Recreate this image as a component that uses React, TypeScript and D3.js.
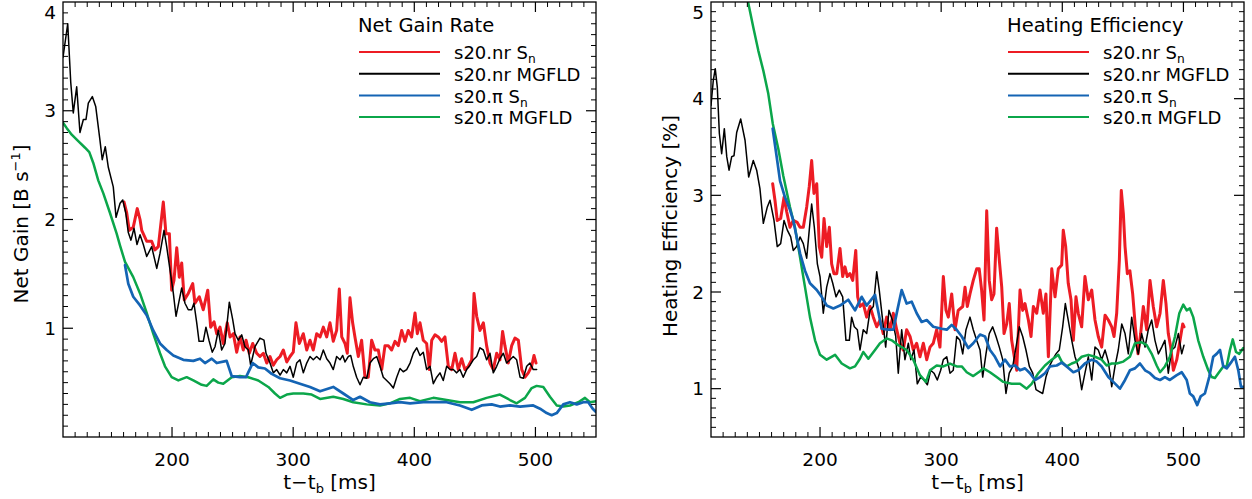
import React from "react";
import * as d3 from "d3";

// ---------------- Left panel: Net Gain Rate [B s^-1] ----------------
const tGainNrSn = [160.4,162.6,164.7,168.0,171.3,173.6,175.0,179.1,183.2,185.9,188.7,191.5,192.8,195.0,197.8,199.7,201.6,203.9,206.0,208.0,210.1,213.4,217.1,218.9,222.5,225.8,229.5,231.9,234.7,236.9,239.6,242.3,245.6,247.9,250.6,253.4,256.1,258.8,261.1,263.8,266.6,269.9,272.6,275.4,278.2,280.9,283.6,286.4,289.2,291.9,294.7,297.4,300.1,302.3,305.1,308.4,311.2,313.9,316.6,319.4,322.2,324.9,327.7,330.4,333.1,335.9,338.1,340.1,342.8,344.7,346.9,349.1,351.0,353.8,356.5,359.3,362.0,364.8,367.5,370.3,373.1,375.8,378.5,381.3,384.1,386.8,389.6,392.3,395.0,397.8,400.6,402.5,404.7,407.4,410.2,412.4,414.4,417.1,419.8,422.6,425.3,428.1,430.9,433.6,436.3,439.1,441.8,444.6,447.4,449.3,451.5,454.2,457.0,459.7,462.5,465.2,468.0,470.7,472.9,474.8,477.6,480.4,483.1,485.9,488.7,491.4,494.1,496.9,498.8,500.5];
const vGainNrSn = [2.16,2.06,1.90,1.93,2.10,2.00,1.90,1.80,1.80,1.72,1.75,2.03,2.16,1.87,1.87,1.35,1.44,1.74,1.47,1.60,1.26,1.32,1.41,1.23,1.29,1.17,1.35,1.01,1.06,0.95,1.01,0.86,1.05,0.92,0.95,0.78,0.92,0.80,0.89,0.77,0.86,0.77,0.74,0.77,0.68,0.74,0.66,0.71,0.74,0.80,0.69,0.74,0.78,1.05,0.86,0.95,0.80,0.89,0.80,0.95,0.92,1.01,0.92,1.05,0.88,0.98,1.36,0.92,0.86,0.77,1.28,1.05,0.92,0.74,0.89,0.55,0.55,0.89,0.80,0.80,0.62,0.84,0.84,0.80,0.88,0.84,0.98,0.88,0.98,0.92,1.14,0.95,1.05,0.89,0.86,0.62,0.89,0.94,0.92,0.88,0.92,0.65,0.62,0.77,0.62,0.72,0.62,0.65,0.71,1.32,1.11,0.98,1.05,0.84,0.68,0.62,0.77,0.71,0.97,0.84,0.68,0.84,0.91,0.89,0.62,0.55,0.59,0.65,0.75,0.68];

const tGainNrMG = [110,113.9,116.4,118.5,121.3,124,126.8,129,130.9,134.2,137,140.5,142.4,144.9,147.4,151.5,153.8,157.1,159.3,161.8,163.9,166.1,168.6,171.1,173.6,176.3,179.1,183.2,187.4,190.1,193.4,195.6,198.3,201.1,203.3,206,208,210.7,213.4,216.2,218.1,220.4,222.3,225.8,228,230.5,233.2,235.5,238.2,241,243.7,247.3,250.1,252,254.7,257.5,260.2,263,264.9,268.5,272.6,275.9,277.6,280.9,283.6,286.4,289.2,291.9,294.7,297.4,300.1,302.9,305.6,308.4,311.2,313.9,316.6,319.4,322.2,324.9,327.7,330.4,333.1,335.9,338.7,340.9,342.8,345.5,347.5,349.6,352.4,355.2,357.9,360.7,363.4,366.2,369,371.7,374.4,377.2,379.9,382.7,385.5,388.2,390.9,393.7,396.5,399.2,402,404.7,407.4,410.2,413,415.7,418.5,421.2,423.9,426.7,429.5,432.2,435,437.7,440.4,443.2,446,448.7,451.5,454.2,457,459.7,462.5,465.2,468,470.7,473.5,476.2,479,481.7,484.5,487.3,490,492.8,495.5,498.2,501];
const vGainNrMG = [3.49,3.80,3.26,2.98,3.22,2.80,2.92,2.92,3.07,3.13,3.04,2.73,2.55,2.67,2.48,2.30,2.02,2.15,2.18,2.06,1.88,1.81,1.92,1.77,1.86,1.77,1.66,1.75,1.55,1.69,1.90,1.75,1.54,1.32,1.11,1.26,1.37,1.23,1.17,1.17,1.23,1.05,0.88,0.88,1.01,0.89,0.78,0.83,0.98,0.80,0.86,1.24,1.08,0.95,0.89,0.94,0.83,0.80,0.66,0.83,0.91,0.89,0.77,0.68,0.59,0.62,0.57,0.62,0.59,0.65,0.55,0.68,0.71,0.59,0.68,0.74,0.71,0.74,0.71,0.80,0.72,0.68,0.62,0.74,0.71,0.75,0.69,0.74,0.75,0.65,0.55,0.48,0.55,0.54,0.68,0.72,0.74,0.65,0.55,0.52,0.49,0.45,0.55,0.63,0.60,0.62,0.68,0.77,0.82,0.75,0.78,0.62,0.65,0.49,0.55,0.59,0.52,0.65,0.62,0.62,0.59,0.62,0.55,0.62,0.66,0.71,0.74,0.82,0.80,0.71,0.77,0.59,0.65,0.72,0.77,0.68,0.71,0.74,0.71,0.55,0.54,0.65,0.68,0.62,0.62];

const tGainPiSn = [161.2,163.9,168.0,173.6,179.1,184.5,190.1,195.6,201.1,209.3,217.6,223.1,227.2,232.8,236.9,245.1,249.3,256.1,261.1,266.6,271.2,276.7,282.3,289.2,297.4,305.6,313.9,322.2,333.1,341.4,349.6,355.2,363.4,371.7,379.9,388.2,396.5,407.4,415.7,426.7,437.7,447.4,455.6,463.9,470.7,479.0,487.3,498.2,503.8,509.3,513.4,517.6,523.0,528.5,534.1,539.5,543.6,547.3,550];
const vGainPiSn = [1.58,1.41,1.29,1.21,1.12,0.98,0.86,0.80,0.75,0.71,0.70,0.72,0.68,0.72,0.68,0.70,0.56,0.55,0.55,0.68,0.64,0.63,0.58,0.54,0.52,0.49,0.46,0.42,0.46,0.40,0.34,0.37,0.32,0.30,0.31,0.32,0.31,0.32,0.32,0.32,0.29,0.25,0.29,0.30,0.28,0.29,0.28,0.29,0.26,0.22,0.20,0.22,0.30,0.32,0.30,0.32,0.32,0.26,0.23];

const tGainPiMG = [110,113.1,117.2,122.6,128.2,131.7,135.0,139.1,143.3,148.8,154.3,157.1,161.2,168.0,173.6,179.1,184.5,190.1,194.2,199.7,205.2,212.1,217.6,224.5,228.6,234.1,238.2,242.3,249.3,256.1,263.0,271.2,279.5,285.0,289.2,294.7,300.1,308.4,315.3,322.2,333.1,341.4,349.6,360.7,371.7,379.9,388.2,396.5,404.7,415.7,426.7,437.7,448.7,459.7,470.7,479.0,484.5,491.4,496.9,501.0,506.5,512.0,517.6,523.0,528.5,535.4,540.9,545.0,550];
const vGainPiMG = [2.89,2.84,2.78,2.72,2.66,2.62,2.52,2.36,2.24,2.06,1.87,1.76,1.61,1.47,1.32,1.14,0.95,0.77,0.65,0.55,0.52,0.55,0.52,0.48,0.47,0.53,0.50,0.49,0.55,0.56,0.55,0.52,0.46,0.40,0.36,0.39,0.40,0.40,0.39,0.35,0.37,0.35,0.32,0.30,0.29,0.31,0.35,0.36,0.33,0.36,0.34,0.32,0.32,0.36,0.39,0.34,0.31,0.36,0.45,0.47,0.46,0.37,0.29,0.28,0.29,0.32,0.36,0.32,0.33];

// ---------------- Right panel: Heating Efficiency [%] ----------------
const tEffNrSn = [160.9,162.8,164.7,167.5,170.3,172.5,175.2,177.9,181.2,183.5,186.2,189.0,191.1,193.1,195.0,197.3,199.4,201.4,203.3,205.5,207.7,209.6,211.5,213.8,216.5,218.7,220.6,222.5,224.7,227.0,229.5,231.1,233.0,235.7,238.5,241.3,244.0,246.8,249.5,252.2,255.0,257.8,260.5,263.3,266.0,268.7,271.5,274.3,277.0,279.8,282.5,285.3,288.1,290.8,293.5,296.3,299.0,301.8,304.0,305.9,308.7,311.4,314.1,317.8,319.7,321.6,323.8,326.5,329.3,331.4,333.4,335.4,337.6,339.7,341.7,343.6,345.8,348.0,350.0,351.9,354.1,356.2,358.2,360.4,362.4,365.1,367.3,369.2,372.0,374.2,376.1,378.9,381.6,384.3,386.5,388.5,391.3,394.0,396.7,399.5,400.8,402.8,404.9,407.2,409.1,411.3,413.2,416.0,418.7,421.5,424.3,427.0,429.7,432.5,435.3,438.0,440.8,442.7,444.9,447.1,448.7,450.4,451.8,453.7,455.8,458.1,460.3,462.5,464.7,466.9,469.7,472.4,475.1,477.9,480.7,483.4,485.6,487.5,489.5,491.7,494.5,497.2,499.4,500.5];
const vEffNrSn = [3.12,2.95,2.74,2.76,2.98,2.83,2.67,2.74,2.72,2.67,2.67,2.88,3.09,3.36,3.02,3.12,2.47,2.36,2.76,2.47,2.67,2.29,2.19,2.19,2.45,2.16,2.26,2.16,2.19,2.12,2.43,1.95,1.85,1.88,1.74,1.85,1.74,1.64,1.71,1.57,1.74,1.61,1.78,1.61,1.47,1.40,1.61,1.54,1.40,1.47,1.33,1.47,1.30,1.43,1.47,1.61,1.43,2.16,1.81,1.74,1.98,1.61,1.81,1.85,2.05,1.85,1.98,2.12,2.24,2.24,2.02,1.71,2.84,2.12,1.92,1.98,2.66,2.33,2.05,1.57,1.67,1.88,1.50,1.33,1.19,2.02,1.81,1.88,1.71,1.54,1.85,1.78,2.02,1.78,1.98,1.33,2.24,1.95,2.24,2.28,2.64,2.47,2.09,1.92,1.50,1.95,1.78,1.64,2.16,1.92,2.02,1.71,1.54,1.43,1.76,1.71,1.64,1.54,1.78,2.33,3.05,2.81,2.47,2.19,2.22,1.98,1.64,1.36,1.57,1.85,1.61,2.12,1.85,1.64,1.78,2.12,1.88,1.57,1.43,1.19,1.30,1.50,1.67,1.64];

const tEffNrMG = [110,111.9,113.5,115.2,116.9,118.8,121.0,123.0,124.9,127.1,129.0,131.2,134.5,138.1,141.1,144.9,147.7,150.4,153.2,156.5,158.7,162.0,164.7,167.5,170.3,173.0,175.8,177.9,180.7,183.5,186.2,189.0,191.1,193.1,195.3,197.8,200.0,202.7,205.5,208.2,210.5,213.2,215.9,218.7,221.4,224.2,226.1,228.3,230.8,233.0,235.7,238.5,241.3,244.0,246.8,248.9,251.4,254.2,256.9,259.7,262.5,264.6,267.4,270.1,272.9,274.9,277.6,280.3,283.1,285.8,288.6,291.4,294.1,296.8,299.6,301.8,304.6,307.3,310.0,312.8,315.5,317.8,320.5,323.8,326.5,329.3,332.1,334.3,337.0,339.7,342.5,345.3,348.0,350.8,353.5,356.2,359.1,361.8,364.5,367.3,370.0,372.8,375.6,378.3,381.0,383.8,386.5,389.3,392.1,394.8,397.5,400.3,402.5,404.9,407.8,410.5,413.2,416.0,418.7,421.5,424.3,427.0,429.7,432.5,435.3,438.0,440.8,443.5,446.2,449.1,451.8,454.5,457.3,460.0,462.7,465.5,468.3,471.0,473.8,476.5,479.3,482.1,484.7,487.5,490.3,493.0,495.8,498.6,500.5];
const vEffNrMG = [3.93,4.19,4.31,4.12,3.64,3.43,3.69,3.40,3.26,3.40,3.41,3.65,3.79,3.57,3.19,3.36,3.26,3.07,2.71,2.88,2.95,2.74,2.47,2.50,2.74,2.64,2.57,2.43,2.47,2.57,2.50,2.35,2.64,2.91,2.67,2.29,2.16,1.78,2.05,2.19,2.09,1.95,2.02,1.95,1.50,1.50,1.74,1.64,1.61,1.40,1.61,1.57,1.81,1.85,2.21,2.02,1.74,1.43,1.81,1.71,1.54,1.16,1.61,1.30,1.47,1.30,1.40,1.05,1.12,1.09,1.04,1.19,1.16,1.09,1.19,1.30,1.33,1.16,1.19,1.54,1.50,1.36,1.61,1.74,1.61,1.50,1.40,1.12,1.36,1.57,1.64,1.54,1.43,1.30,0.95,1.16,1.23,1.43,1.64,1.54,1.40,1.23,1.16,0.99,0.97,0.95,1.12,1.23,1.30,1.36,1.40,1.64,1.88,1.71,1.50,1.33,1.23,0.99,1.16,1.33,1.09,1.43,1.40,1.30,1.40,1.28,1.02,1.23,1.40,1.67,1.57,1.36,1.74,1.50,1.36,1.57,1.43,1.61,1.71,1.50,1.36,1.43,1.50,1.16,1.40,1.43,1.57,1.36,1.45];

const tEffPiSn = [160.9,164.2,167.0,171.1,175.2,177.9,180.7,183.5,187.6,191.7,197.3,201.4,205.5,211.0,216.5,223.3,228.9,234.4,238.5,245.4,250.9,256.4,260.5,263.8,267.4,271.5,275.7,279.8,283.9,288.1,293.5,300.4,304.6,308.7,312.8,317.0,322.4,326.5,332.1,336.2,340.3,344.4,348.6,352.7,356.8,361.0,365.1,369.2,373.3,377.5,381.6,385.7,389.8,395.4,399.5,403.6,409.1,413.2,418.7,424.3,428.4,432.5,438.0,442.1,447.6,451.8,455.8,460.0,464.1,468.3,472.4,476.5,480.7,484.7,488.8,494.5,498.6,502.7,505.3,508.1,511.4,514.2,517.7,521.3,524.6,527.4,530.2,532.9,535.7,539.8,542.5,545.3,547.5,550];
const vEffPiSn = [3.69,3.40,3.15,2.98,2.85,2.74,2.57,2.40,2.22,2.09,2.02,1.95,1.86,1.83,1.86,1.92,1.81,1.95,1.86,1.97,1.62,1.61,1.61,1.81,2.02,1.88,1.90,1.78,1.69,1.71,1.64,1.62,1.61,1.66,1.61,1.54,1.42,1.47,1.56,1.54,1.40,1.33,1.23,1.30,1.23,1.24,1.19,1.21,1.16,1.09,1.12,1.16,1.23,1.24,1.27,1.23,1.17,1.19,1.26,1.30,1.28,1.23,1.12,1.07,1.00,1.09,1.19,1.21,1.26,1.19,1.16,1.11,1.09,1.12,1.09,1.14,1.17,1.09,0.95,0.92,0.83,0.92,0.95,1.12,1.33,1.36,1.40,1.23,1.21,1.28,1.33,1.19,1.02,1.02];

const tEffPiMG = [140.6,144.9,149.0,153.2,157.3,161.0,165.6,169.7,175.2,179.3,183.5,187.6,191.7,195.9,200.0,205.5,212.4,217.9,224.7,228.9,233.0,235.7,239.9,245.4,249.5,255.0,259.2,264.6,271.5,277.0,282.5,287.5,290.8,296.3,301.8,307.3,312.8,317.0,321.1,326.5,332.1,334.8,340.3,345.8,351.3,358.2,365.1,370.6,374.7,380.2,385.7,391.3,396.7,399.5,403.6,407.8,411.9,416.0,421.5,427.0,432.5,436.6,440.8,444.9,450.4,455.8,460.0,465.5,469.7,473.8,477.9,480.7,484.7,488.8,493.0,496.6,499.9,502.7,505.3,508.1,512.2,516.4,520.5,523.3,526.0,528.8,532.9,535.7,538.4,540.7,543.4,546.1,549.4];
const vEffPiMG = [5.00,4.74,4.50,4.29,4.05,3.74,3.48,3.20,2.88,2.67,2.36,2.05,1.74,1.50,1.35,1.30,1.35,1.26,1.21,1.23,1.31,1.38,1.31,1.40,1.47,1.52,1.50,1.45,1.40,1.30,1.14,1.07,1.19,1.24,1.23,1.26,1.23,1.23,1.17,1.13,1.18,1.21,1.17,1.12,1.07,1.05,1.05,1.00,1.05,1.16,1.24,1.30,1.35,1.28,1.23,1.26,1.28,1.33,1.35,1.33,1.30,1.24,1.26,1.26,1.28,1.33,1.47,1.48,1.45,1.36,1.24,1.17,1.23,1.33,1.54,1.78,1.87,1.81,1.83,1.74,1.50,1.33,1.19,1.12,1.11,1.16,1.23,1.23,1.40,1.51,1.38,1.36,1.42];

// ---------------- Axes ----------------
const xDomain = [110, 550];
const xMajorTicks = [200, 300, 400, 500];
const gainDomain = [0, 4];
const gainTicks = [1, 2, 3, 4];
const effDomain = [0.5, 5];
const effTicks = [1, 2, 3, 4, 5];

const legendNames = ["s20.nr S|n", "s20.nr MGFLD", "s20.\u03c0 S|n", "s20.\u03c0 MGFLD"];

const RED = "#ed1c24";
const BLACK = "#000000";
const BLUE = "#1464b4";
const GREEN = "#0ba64a";
const FONT = "'DejaVu Sans', sans-serif";

type S = { t: number[]; v: number[]; color: string; w: number };

function zip(t: number[], v: number[]) {
  const n = Math.min(t.length, v.length);
  const out: [number, number][] = [];
  for (let i = 0; i < n; i++) out.push([t[i], v[i]]);
  return out;
}

function Label({ text, x, y, size, anchor }: { text: string; x: number; y: number; size: number; anchor?: string }) {
  const [a, sub] = text.split("|");
  return (
    <text x={x} y={y} fontSize={size} fontFamily={FONT} textAnchor={anchor || "start"} fill="#000">
      {a}
      {sub ? (
        <tspan fontSize={size * 0.68} dy={4}>
          {sub}
        </tspan>
      ) : null}
    </text>
  );
}

function Panel(props: {
  id: string;
  x0: number;
  x1: number;
  y0: number;
  y1: number;
  yDomain: number[];
  yTicks: number[];
  series: S[];
  title: string;
  legendX: number;
  yTitle: React.ReactNode;
  yTitleX: number;
  yTitleY: number;
}) {
  const { id, x0, x1, y0, y1, yDomain, yTicks, series, title, legendX } = props;
  const xs = d3.scaleLinear().domain(xDomain).range([x0, x1]);
  const ys = d3.scaleLinear().domain(yDomain).range([y1, y0]);
  const line = d3
    .line<[number, number]>()
    .x((d) => xs(d[0]))
    .y((d) => ys(d[1]));

  const xMinor = d3.range(120, 550, 10).filter((v) => v % 100 !== 0);
  const yLo = Math.round(yDomain[0] * 10);
  const yHi = Math.round(yDomain[1] * 10);
  const yAll = d3.range(yLo + 1, yHi).map((i) => ({ v: i / 10, major: i % 10 === 0 }));
  const colors = [RED, BLACK, BLUE, GREEN];
  const ax = "#000";

  return (
    <g>
      <defs>
        <clipPath id={id}>
          <rect x={x0} y={y0} width={x1 - x0} height={y1 - y0} />
        </clipPath>
      </defs>
      <g clipPath={`url(#${id})`} fill="none" strokeLinejoin="round" strokeLinecap="round">
        {series.map((s, i) => (
          <path key={i} d={line(zip(s.t, s.v)) || ""} stroke={s.color} strokeWidth={s.w} />
        ))}
      </g>
      {/* frame */}
      <rect x={x0} y={y0} width={x1 - x0} height={y1 - y0} fill="none" stroke={ax} strokeWidth={1.3} />
      {/* x ticks */}
      {xMinor.map((v) => (
        <g key={"xm" + v} stroke={ax} strokeWidth={1}>
          <line x1={xs(v)} x2={xs(v)} y1={y1} y2={y1 - 5} />
          <line x1={xs(v)} x2={xs(v)} y1={y0} y2={y0 + 5} />
        </g>
      ))}
      {xMajorTicks.map((v) => (
        <g key={"xM" + v}>
          <line x1={xs(v)} x2={xs(v)} y1={y1} y2={y1 - 10} stroke={ax} strokeWidth={1.2} />
          <line x1={xs(v)} x2={xs(v)} y1={y0} y2={y0 + 10} stroke={ax} strokeWidth={1.2} />
          <text x={xs(v)} y={466} fontSize={18.5} fontFamily={FONT} textAnchor="middle">
            {v}
          </text>
        </g>
      ))}
      {/* y ticks */}
      {yAll.map((d) => (
        <g key={"y" + d.v} stroke={ax} strokeWidth={d.major ? 1.2 : 1}>
          <line x1={x0} x2={x0 + (d.major ? 10 : 5)} y1={ys(d.v)} y2={ys(d.v)} />
          <line x1={x1} x2={x1 - (d.major ? 10 : 5)} y1={ys(d.v)} y2={ys(d.v)} />
        </g>
      ))}
      {yTicks.map((v) => (
        <text key={"yl" + v} x={x0 - 7} y={Math.max(ys(v), 12.5) + 6.7} fontSize={18.5} fontFamily={FONT} textAnchor="end">
          {v}
        </text>
      ))}
      {/* x title */}
      <text x={(x0 + x1) / 2} y={489} fontSize={20} fontFamily={FONT} textAnchor="middle">
        t{"\u2212"}t
        <tspan fontSize={13} dy={4}>
          b
        </tspan>
        <tspan dy={-4}> [ms]</tspan>
      </text>
      {/* y title */}
      <text
        transform={`translate(${props.yTitleX},${props.yTitleY}) rotate(-90)`}
        fontSize={20}
        fontFamily={FONT}
        textAnchor="middle"
      >
        {props.yTitle}
      </text>
      {/* legend */}
      <text x={legendX} y={32} fontSize={19.5} fontFamily={FONT}>
        {title}
      </text>
      {legendNames.map((name, i) => {
        const yy = 52 + i * 21.7;
        return (
          <g key={name}>
            <line x1={legendX + 1} x2={legendX + 82} y1={yy} y2={yy} stroke={colors[i]} strokeWidth={2} />
            <Label text={name} x={legendX + 96} y={yy + 7.3} size={18} />
          </g>
        );
      })}
    </g>
  );
}

export default function App() {
  const gainSeries: S[] = [
    { t: tGainNrSn, v: vGainNrSn, color: RED, w: 3 },
    { t: tGainNrMG, v: vGainNrMG, color: BLACK, w: 1.5 },
    { t: tGainPiMG, v: vGainPiMG, color: GREEN, w: 2.5 },
    { t: tGainPiSn, v: vGainPiSn, color: BLUE, w: 2.7 },
  ];
  const effSeries: S[] = [
    { t: tEffNrSn, v: vEffNrSn, color: RED, w: 3 },
    { t: tEffNrMG, v: vEffNrMG, color: BLACK, w: 1.5 },
    { t: tEffPiMG, v: vEffPiMG, color: GREEN, w: 2.5 },
    { t: tEffPiSn, v: vEffPiSn, color: BLUE, w: 2.7 },
  ];
  return (
    <svg
      width={1252}
      height={499}
      viewBox="0 0 1252 499"
      style={{ position: "absolute", left: 0, top: 0, background: "#fff" }}
    >
      <rect x={0} y={0} width={1252} height={499} fill="#fff" />
      <Panel
        id="clipGain"
        x0={63}
        x1={596}
        y0={2}
        y1={437}
        yDomain={gainDomain}
        yTicks={gainTicks}
        series={gainSeries}
        title="Net Gain Rate"
        legendX={358}
        yTitleX={28}
        yTitleY={224}
        yTitle={
          <>
            Net Gain [B s
            <tspan fontSize={13} dy={-8}>
              {"\u2212"}1
            </tspan>
            <tspan dy={8}>]</tspan>
          </>
        }
      />
      <Panel
        id="clipEff"
        x0={711}
        x1={1244}
        y0={2}
        y1={437}
        yDomain={effDomain}
        yTicks={effTicks}
        series={effSeries}
        title="Heating Efficiency"
        legendX={1007}
        yTitleX={677}
        yTitleY={226}
        yTitle={<>Heating Efficiency [%]</>}
      />
    </svg>
  );
}
